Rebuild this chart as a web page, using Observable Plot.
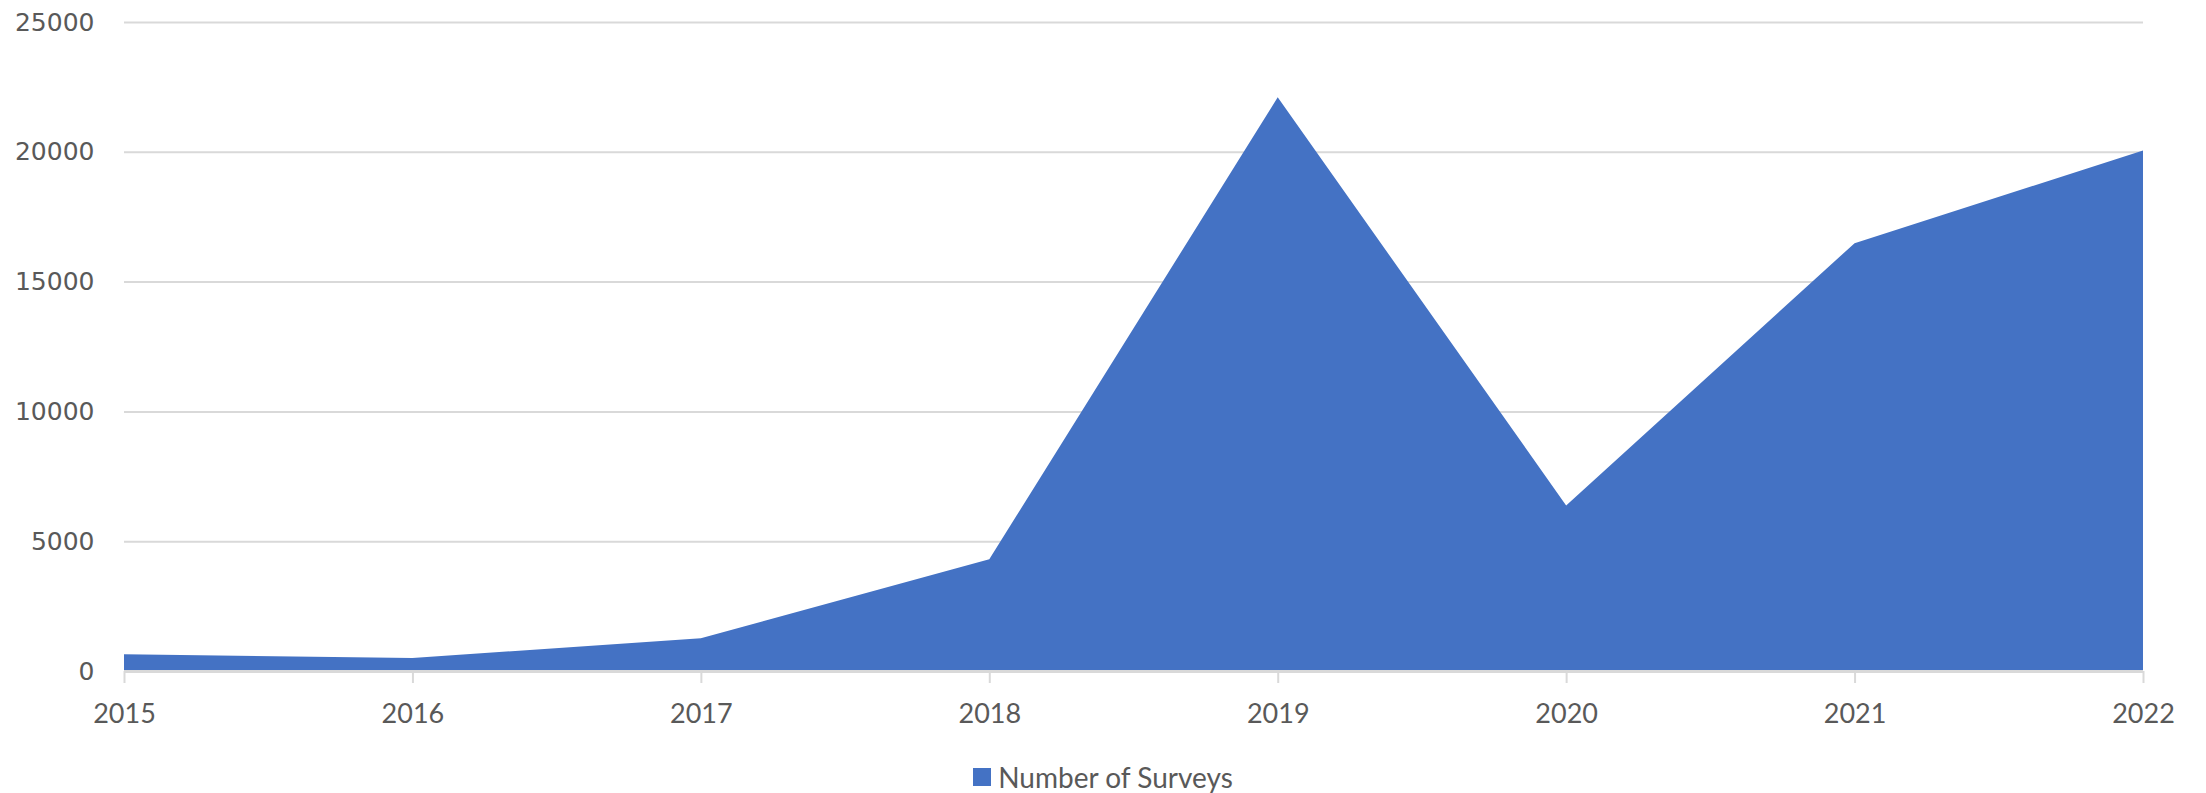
<!DOCTYPE html>
<html>
<head>
<meta charset="utf-8">
<script src="https://cdn.jsdelivr.net/npm/d3@7"></script>
<script src="https://cdn.jsdelivr.net/npm/@observablehq/plot@0.6"></script>
<style>
  html, body { margin: 0; padding: 0; background: #fff; }
  #legend { width: 2206px; display: flex; justify-content: center; align-items: center; margin-top: 20px;
    font-family: Lato, sans-serif; font-size: 28px; color: #595959; }
  #legend .sw { width: 18px; height: 18px; background: #4472c4; margin-right: 7px; }
</style>
</head>
<body>
<div id="chart"></div>
<div id="legend"><span class="sw"></span><span>Number of Surveys</span></div>
<script>
const years = [2015, 2016, 2017, 2018, 2019, 2020, 2021, 2022];
const surveys = [650, 500, 1260, 4300, 22100, 6380, 16480, 20050];
const yTicks = [0, 5000, 10000, 15000, 20000, 25000];
const seriesName = "Number of Surveys";

const data = years.map((y, i) => ({year: y, value: surveys[i]}));

const plot = Plot.plot({
  width: 2206,
  height: 740,
  marginLeft: 124,
  marginRight: 63,
  marginTop: 22,
  marginBottom: 69,
  x: {domain: [2015, 2022], ticks: years, tickFormat: d3.format("d"), label: null},
  y: {domain: [0, 25000], ticks: yTicks, tickFormat: d3.format("d"), label: null},
  style: {background: "#fff"},
  marks: [
    Plot.ruleY(yTicks.filter(d => d > 0), {stroke: "#d9d9d9", strokeWidth: 2}),
    Plot.areaY(data, {x: "year", y: "value", fill: "#4472c4"}),
    Plot.ruleY([0], {stroke: "#d9d9d9", strokeWidth: 3}),
    Plot.axisX({ticks: years, tickFormat: d3.format("d"), label: null, tickSize: 12, tickPadding: 20,
      stroke: "#d9d9d9", strokeWidth: 2, fill: "#595959", fontSize: 27, fontFamily: "Lato"}),
    Plot.axisY({ticks: yTicks, tickFormat: d3.format("d"), label: null, tickSize: 0, tickPadding: 30,
      fill: "#595959", fontSize: 25, fontFamily: "DejaVu Sans"})
  ]
});
document.getElementById("chart").appendChild(plot);
</script>
</body>
</html>
